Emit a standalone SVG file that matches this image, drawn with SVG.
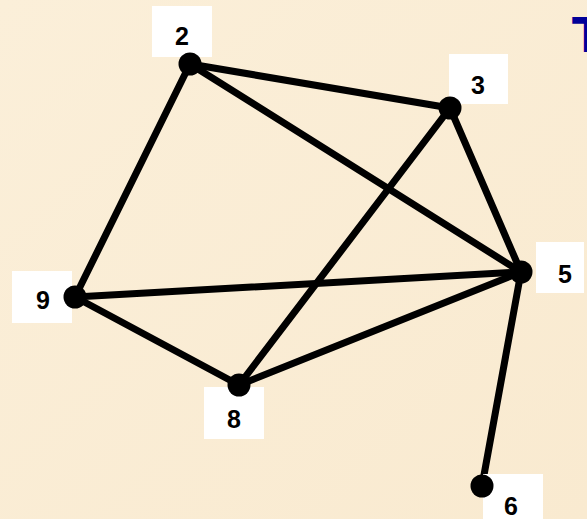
<svg xmlns="http://www.w3.org/2000/svg" width="587" height="519" viewBox="0 0 587 519">
<defs>
<style>
.edge{stroke:#000;stroke-width:7;stroke-linecap:round;fill:none}
.dot{fill:#000}
.box{fill:#fff}
.lbl{font-family:"Liberation Sans",Arial,sans-serif;font-weight:bold;font-size:25px;fill:#000;text-anchor:middle}
</style>
<linearGradient id="bg" x1="0" y1="0" x2="1" y2="1">
<stop offset="0" stop-color="#FBEFD9"/>
<stop offset="1" stop-color="#F9EAD0"/>
</linearGradient>
</defs>
<rect x="0" y="0" width="587" height="519" fill="url(#bg)"/>
<text x="572" y="52" font-family="'Comic Sans MS','DejaVu Sans',sans-serif" font-weight="bold" font-size="48" fill="#000099">T</text>
<g id="connectors">
<line class="edge" x1="190" y1="64" x2="450" y2="108"/>
<line class="edge" x1="190" y1="64" x2="521" y2="272"/>
<line class="edge" x1="190" y1="64" x2="75" y2="297"/>
<line class="edge" x1="450" y1="108" x2="521" y2="272"/>
<line class="edge" x1="450" y1="108" x2="239" y2="385"/>
<line class="edge" x1="75" y1="297" x2="521" y2="272"/>
<line class="edge" x1="75" y1="297" x2="239" y2="385"/>
<line class="edge" x1="239" y1="385" x2="521" y2="272"/>
<line class="edge" x1="521" y1="272" x2="482" y2="486"/>
</g>
<g id="node2"><rect class="box" x="152" y="6" width="60" height="51"/><text class="lbl" x="182" y="45">2</text><circle class="dot" cx="190" cy="64" r="11.5"/></g>
<g id="node3"><rect class="box" x="449" y="54" width="59" height="50"/><text class="lbl" x="478" y="94">3</text><circle class="dot" cx="450" cy="108" r="11.5"/></g>
<g id="node5"><rect class="box" x="536" y="242" width="48" height="51"/><text class="lbl" x="565" y="283">5</text><circle class="dot" cx="521" cy="272" r="11.5"/></g>
<g id="node9"><rect class="box" x="12" y="271" width="60" height="52"/><text class="lbl" x="43" y="309">9</text><circle class="dot" cx="75" cy="297" r="11.5"/></g>
<g id="node8"><rect class="box" x="204" y="387" width="60" height="52"/><text class="lbl" x="234" y="428">8</text><circle class="dot" cx="239" cy="385" r="11.5"/></g>
<g id="node6"><rect class="box" x="483" y="474" width="60" height="50"/><text class="lbl" x="511" y="515">6</text><circle class="dot" cx="482" cy="486" r="11.5"/></g>
</svg>
